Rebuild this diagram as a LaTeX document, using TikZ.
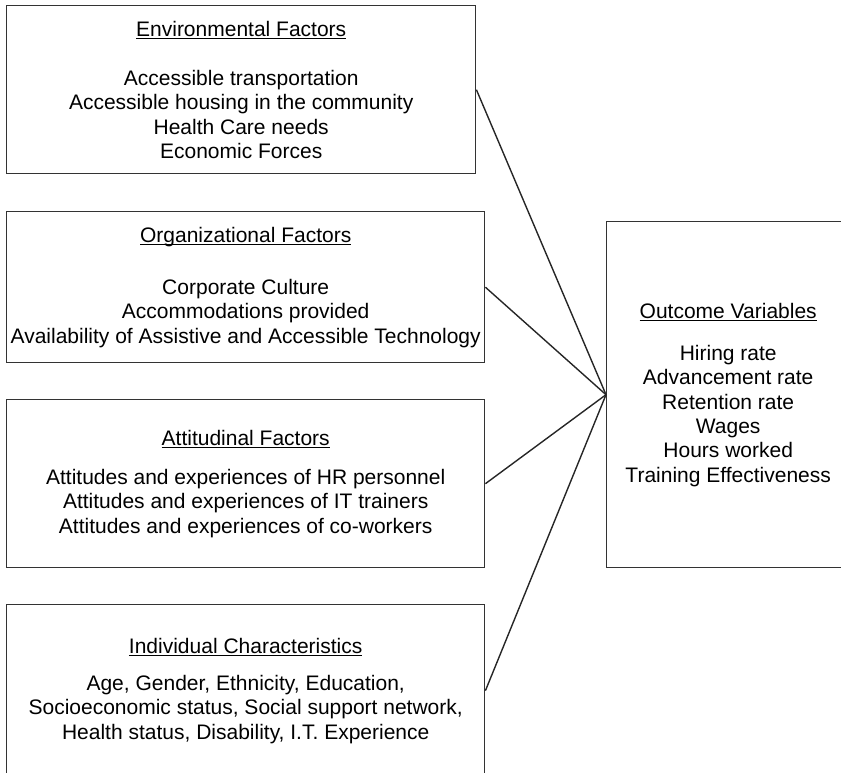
\documentclass[tikz,border=0pt]{standalone}
\usepackage{fontspec}
\setmainfont{Liberation Sans}
\newcommand\boxtitle[1]{\setbox0\hbox{#1}\rlap{\rule[-2.6pt]{\wd0}{1pt}}\box0}

\begin{document}
\begin{tikzpicture}[x=1pt, y=-1pt,
  factor/.style={rectangle, draw=black!80, line width=1.4pt, anchor=north west,
    align=center, inner sep=0pt, font=\fontsize{21}{24.3}\selectfont},
  link/.style={draw=black!85, line width=1.4pt}]
\useasboundingbox (0,0) rectangle (841,772);

\node [factor, minimum width=469pt, minimum height=168pt] (env) at (6,5)
  {\boxtitle{Environmental Factors}\\[25pt]
   Accessible transportation\\
   Accessible housing in the community\\
   Health Care needs\\
   Economic Forces};
\node [factor, minimum width=478pt, minimum height=151pt] (org) at (6,211)
  {\boxtitle{Organizational Factors}\\[28pt]
   Corporate Culture\\
   Accommodations provided\\
   Availability of Assistive and Accessible Technology};
\node [factor, minimum width=478pt, minimum height=168pt] (att) at (6,399)
  {\boxtitle{Attitudinal Factors}\\[15pt]
   Attitudes and experiences of HR personnel\\
   Attitudes and experiences of IT trainers\\
   Attitudes and experiences of co-workers};
\node [factor, minimum width=478pt, minimum height=172pt] (ind) at (6,604)
  {\boxtitle{Individual Characteristics}\\[13pt]
   Age, Gender, Ethnicity, Education,\\
   Socioeconomic status, Social support network,\\
   Health status, Disability, I.T. Experience};

\node [factor, minimum width=243pt, minimum height=346pt] (out) at (606,221)
  {\boxtitle{Outcome Variables}\\[18pt]
   Hiring rate\\
   Advancement rate\\
   Retention rate\\
   Wages\\
   Hours worked\\
   Training Effectiveness};

\draw [link] (env.east) -- (out.west);
\draw [link] (org.east) -- (out.west);
\draw [link] (att.east) -- (out.west);
\draw [link] (ind.east) -- (out.west);
\end{tikzpicture}
\end{document}
